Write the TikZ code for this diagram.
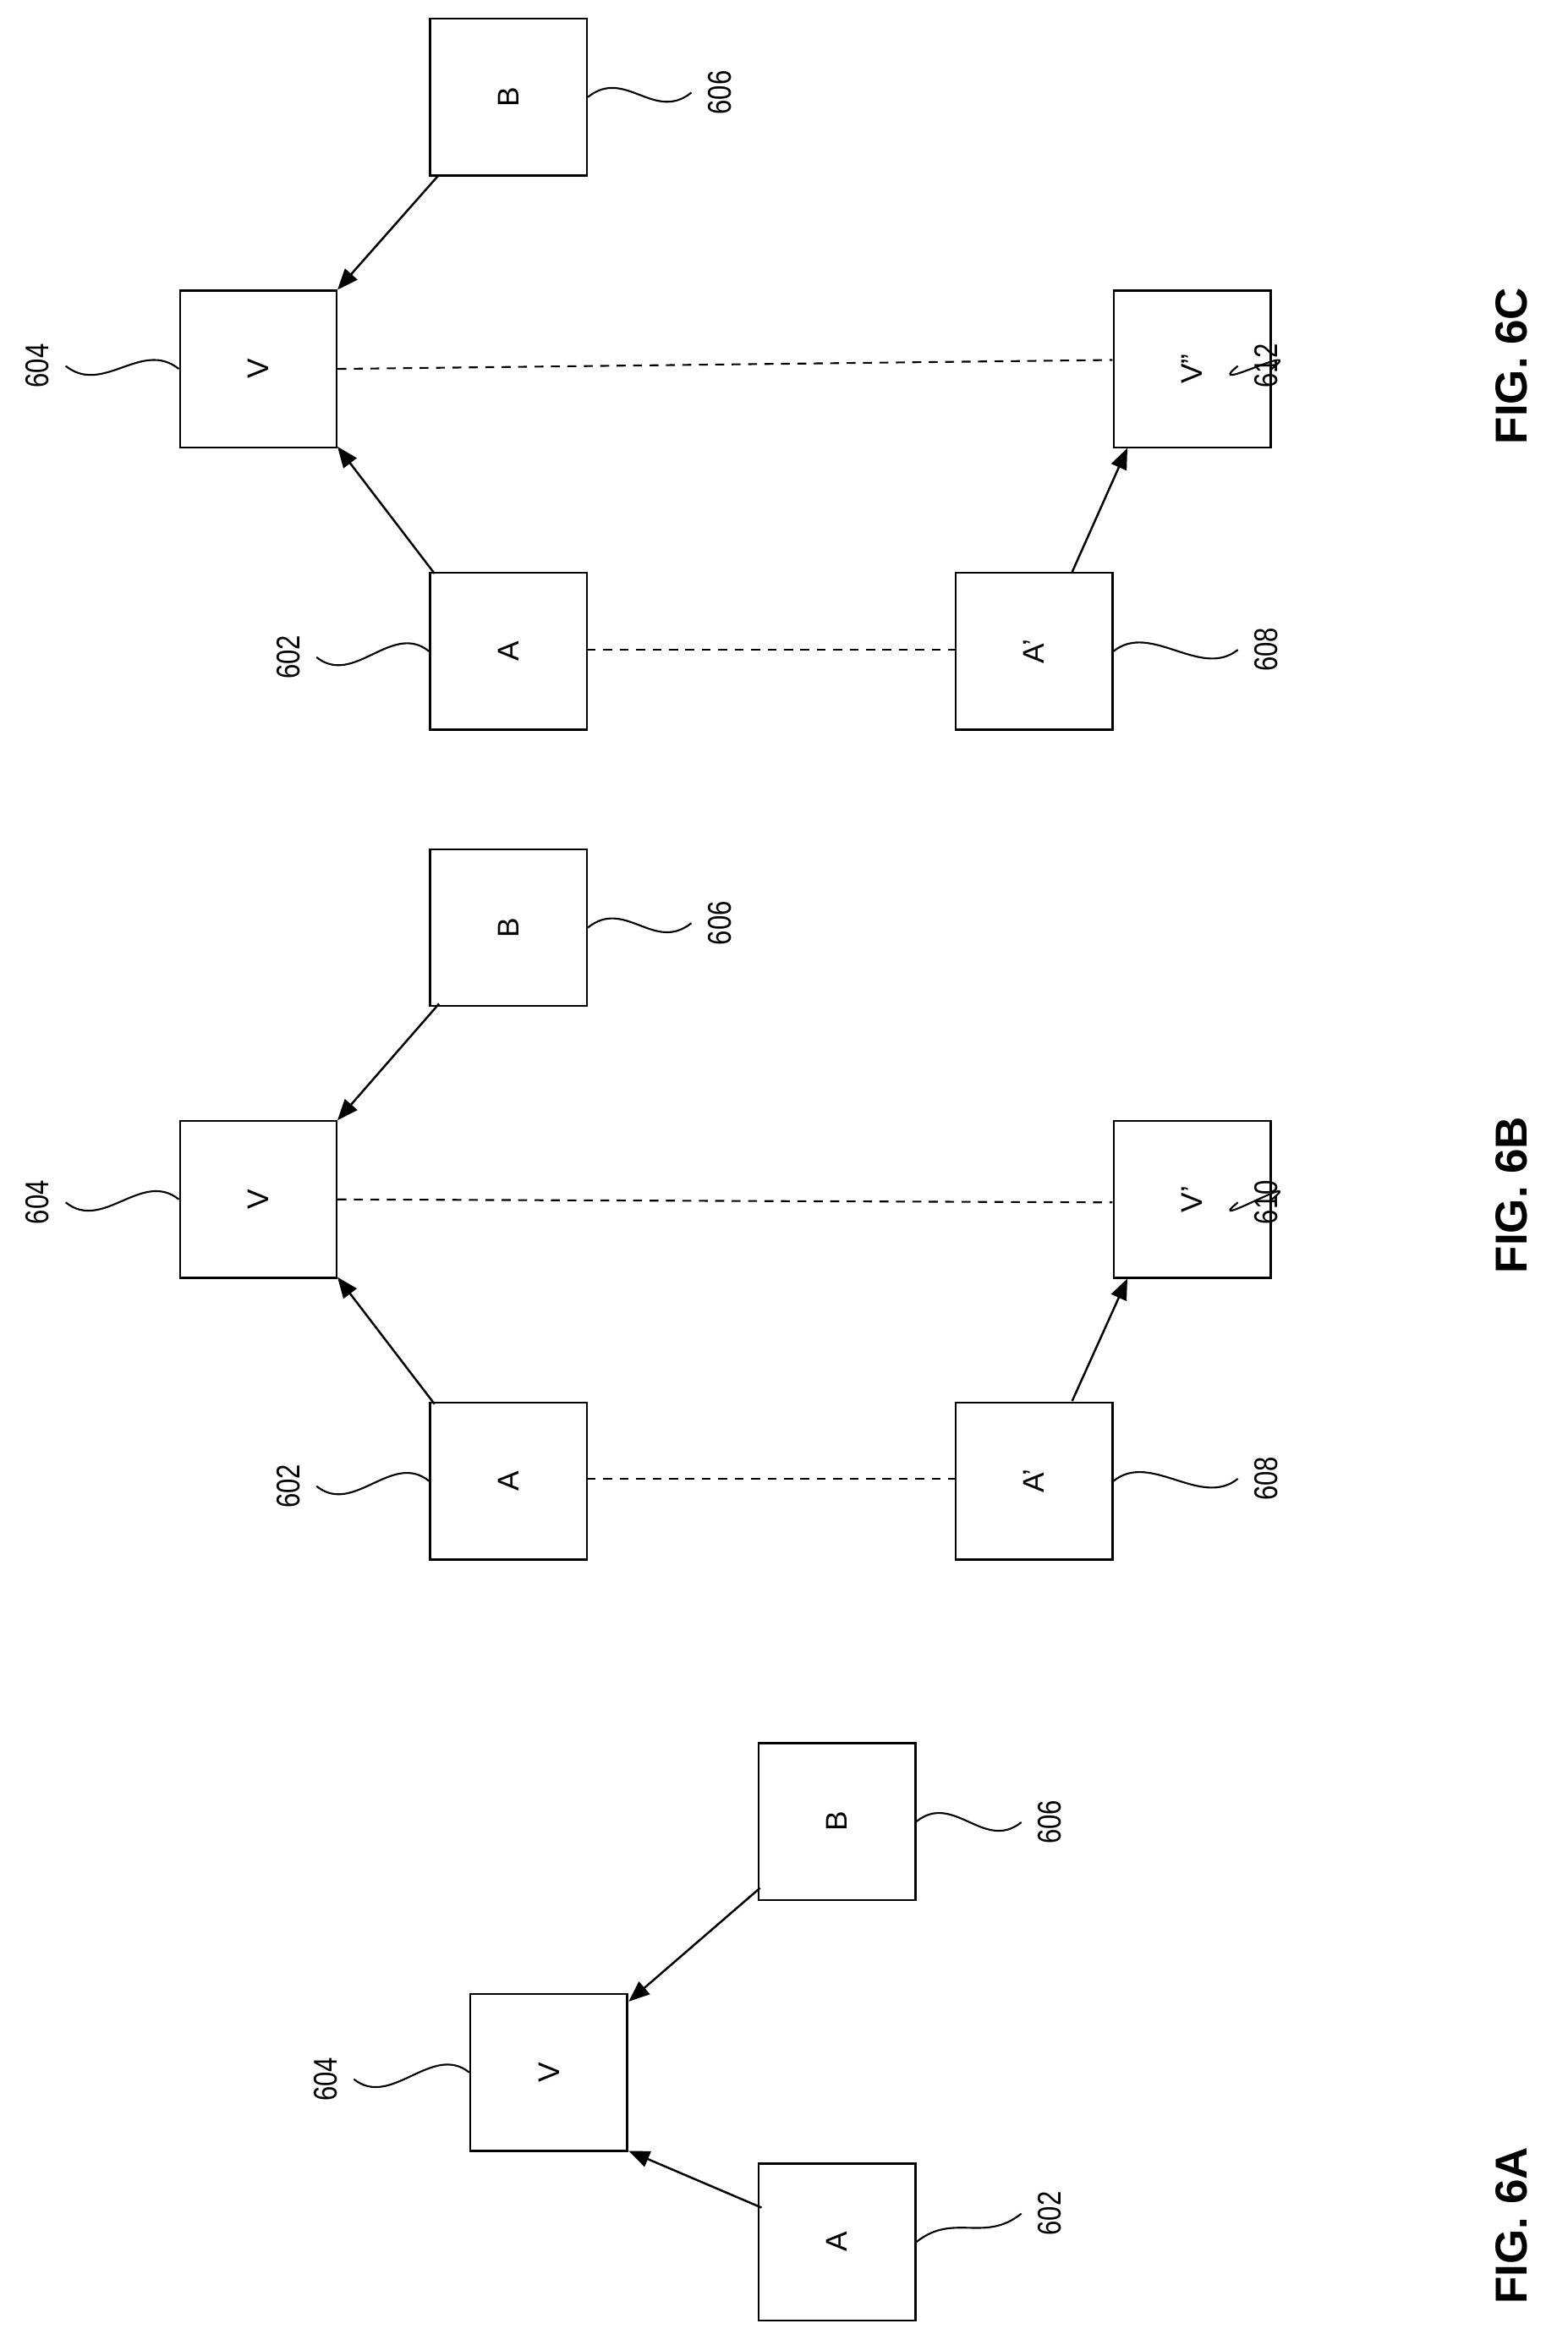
\documentclass[tikz,border=0pt]{standalone}
\usepackage{fontspec}
\setmainfont{Liberation Sans}
\usetikzlibrary{arrows.meta}
\begin{document}
\begin{tikzpicture}[x=1pt,y=-1pt,
 box/.style={draw,line width=1.4pt,minimum size=105pt,inner sep=0pt,font=\fontsize{20}{24}\selectfont,rotate=90},
 lbl/.style={font=\fontsize{22}{26}\selectfont,rotate=90,inner sep=1pt,xscale=0.8},
 fig/.style={font=\bfseries\fontsize{30}{36}\selectfont,rotate=90},
 arr/.style={line width=1.4pt,-{Triangle[length=14pt,width=11pt]}},
 dsh/.style={line width=1.2pt,dash pattern=on 6pt off 5pt},
 wig/.style={line width=1.2pt}]
\useasboundingbox (0,0) rectangle (1050,1574);
% 6A
\node[box] (aA) at (560.5,1501) {A};
\node[box] (aV) at (367.5,1387.5) {V};
\node[box] (aB) at (560.5,1219.5) {B};
\draw[arr] (510,1478) -- (421,1440);
\draw[arr] (509,1264) -- (421,1340);
\node[lbl] (a602) at (703,1482) {602};
\node[lbl] (a604) at (218,1392) {604};
\node[lbl] (a606) at (703,1220) {606};
\node[fig] (f6a) at (1012,1490) {FIG. 6A};
% 6B
\node[box] (bA) at (340.5,991.5) {A};
\node[box] (bV) at (173,803) {V};
\node[box] (bB) at (340.5,621) {B};
\node[box] (bA2) at (692.5,991.5) {A'};
\node[box] (bV2) at (798.5,803) {V'};
\draw[arr] (291,940) -- (226,855);
\draw[arr] (294,672) -- (226,750);
\draw[arr] (718,938) -- (755,856);
\draw[dsh] (393,990) -- (640,990);
\draw[dsh] (226,803) -- (745,805);
\node[lbl] (b602) at (193,995) {602};
\node[lbl] (b604) at (25,805) {604};
\node[lbl] (b606) at (482,618) {606};
\node[lbl] (b608) at (848,990) {608};
\node[lbl] (b610) at (848,805) {610};
\node[fig] (f6b) at (1012,800) {FIG. 6B};
% 6C
\node[box] (cA) at (340.5,436) {A};
\node[box] (cV) at (173,247) {V};
\node[box] (cB) at (340.5,65) {B};
\node[box] (cA2) at (692.5,436) {A'};
\node[box] (cV2) at (798.5,247) {V''};
\draw[arr] (291,384) -- (226,299);
\draw[arr] (294,117) -- (226,194);
\draw[arr] (718,383) -- (755,300);
\draw[dsh] (393,435) -- (640,435);
\draw[dsh] (226,247) -- (745,241);
\node[lbl] (c602) at (193,440) {602};
\node[lbl] (c604) at (25,245) {604};
\node[lbl] (c606) at (482,62) {606};
\node[lbl] (c608) at (848,435) {608};
\node[lbl] (c612) at (848,245) {612};
\node[fig] (f6c) at (1012,245) {FIG. 6C};
% wiggles
\foreach \b/\l in {aA/a602,aB/a606,bB/b606,bA2/b608,bV2/b610,cB/c606,cA2/c608,cV2/c612}{
 \draw[wig] (\b.south) .. controls +(25,-20) and +(-25,20) .. ([xshift=-10pt]\l.north);}
\foreach \b/\l in {aV/a604,bA/b602,bV/b604,cA/c602,cV/c604}{
 \draw[wig] (\b.north) .. controls +(-25,-20) and +(25,20) .. ([xshift=10pt]\l.south);}
\end{tikzpicture}
\end{document}
